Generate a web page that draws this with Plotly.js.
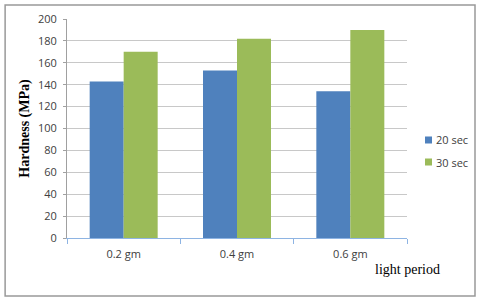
<!DOCTYPE html>
<html>
<head>
<meta charset="utf-8">
<script src="https://cdn.plot.ly/plotly-3.0.1.min.js"></script>
<style>html,body{margin:0;padding:0;background:#fff;}#chart{width:480px;height:302px;}</style>
</head>
<body>
<div id="chart"></div>
<script>
const categories = ["0.2 gm", "0.4 gm", "0.6 gm"];
const series20 = [143, 153, 134];
const series30 = [170, 182, 190];
const seriesNames = ["20 sec", "30 sec"];
const seriesColors = ["#4f81bd", "#9bbb59"];
const yTicks = [0, 20, 40, 60, 80, 100, 120, 140, 160, 180, 200];

const tickFont = {family: "Open Sans, Liberation Sans, sans-serif", size: 11, color: "#404040"};

const data = [
  {type: "bar", x: categories, y: series20, name: seriesNames[0], marker: {color: seriesColors[0]}},
  {type: "bar", x: categories, y: series30, name: seriesNames[1], marker: {color: seriesColors[1]}}
];

// manual legend (small squares like the original)
const legendY = [0.4475, 0.347];
const legendShapes = seriesNames.map((n, i) => ({
  type: "rect", xref: "paper", yref: "paper", x0: 1.053, x1: 1.0735,
  y0: legendY[i] - 0.016, y1: legendY[i] + 0.016, fillcolor: seriesColors[i], line: {width: 0}
}));
const legendTexts = seriesNames.map((n, i) => ({
  text: n, xref: "paper", yref: "paper", x: 1.08, y: legendY[i], xanchor: "left", yanchor: "middle",
  showarrow: false, font: {family: "Open Sans, Liberation Sans, sans-serif", size: 11, color: "#404040"}
}));

const layout = {
  width: 480, height: 302,
  margin: {l: 67, r: 73, t: 19, b: 64, autoexpand: false},
  paper_bgcolor: "#fff", plot_bgcolor: "#fff",
  barmode: "group", bargap: 0.4, bargroupgap: 0,
  showlegend: false,
  xaxis: {
    type: "category", tickson: "boundaries", ticks: "outside", ticklen: 5, tickcolor: "#8eb4e3",
    showline: true, linecolor: "#8eb4e3", linewidth: 1, showgrid: false,
    tickfont: tickFont, zeroline: false, ticklabelstandoff: 6
  },
  yaxis: {
    range: [0, 200], tickvals: yTicks, ticks: "outside", ticklen: 3, tickcolor: "#a0a0a0",
    showline: true, linecolor: "#a0a0a0", linewidth: 1,
    showgrid: true, gridcolor: "#c8c8c8", gridwidth: 1, zeroline: false,
    tickfont: tickFont, ticklabelstandoff: 4,
    title: {text: "Hardness (MPa)", font: {family: "Liberation Serif, Times New Roman, serif", size: 14, color: "#000", weight: "bold"}, standoff: 5}
  },
  annotations: [
    {text: "light period", xref: "paper", yref: "paper", x: 1.0, y: -0.1, xanchor: "center", yanchor: "top", showarrow: false,
     font: {family: "Liberation Serif, Times New Roman, serif", size: 14, color: "#000"}}
  ].concat(legendTexts),
  shapes: [
    {type: "rect", xref: "paper", yref: "paper", x0: -0.182, x1: 1.2, y0: -0.265, y1: 1.064, line: {color: "#999", width: 1.5}}
  ].concat(legendShapes)
};

Plotly.newPlot("chart", data, layout, {displayModeBar: false, staticPlot: true});
</script>
</body>
</html>
